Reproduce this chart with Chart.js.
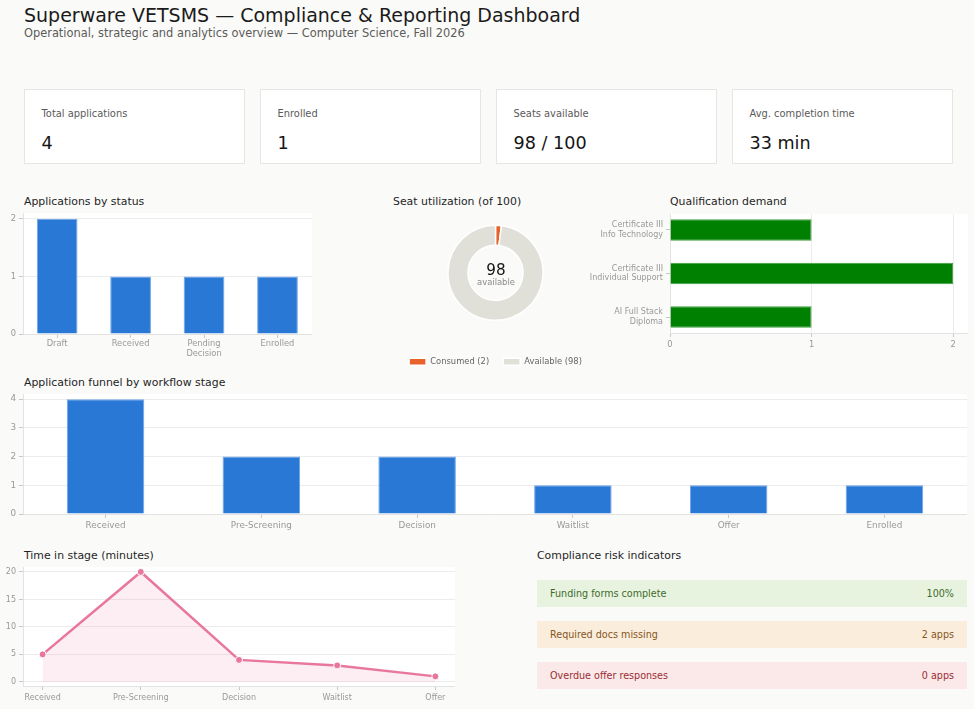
<!DOCTYPE html>
<html>
<head>
<meta charset="utf-8">
<script src="https://cdn.jsdelivr.net/npm/chart.js@4.4.1/dist/chart.umd.min.js"></script>
<style>
  html, body { margin:0; padding:0; background:#fafaf8; width:974px; height:709px; overflow:hidden; font-family:'DejaVu Sans', sans-serif; }
  .abs { position:absolute; }
  .h1 { left:24px; top:5px; font-size:19px; line-height:20px; color:#1b1b1b; white-space:nowrap; }
  .sub { left:24px; top:24px; font-size:11.4px; line-height:18px; color:#5a5a5a; white-space:nowrap; }
  .card { position:absolute; top:89px; width:221px; height:75px; box-sizing:border-box; background:#fff; border:1px solid #e6e6e4; }
  .card .lab { position:absolute; left:17px; top:17px; font-size:9.9px; line-height:13px; color:#5a5a5a; white-space:nowrap; }
  .card .val { position:absolute; left:17px; top:42px; font-size:17.6px; line-height:22px; color:#151515; white-space:nowrap; }
  .sec { font-size:10.9px; line-height:14px; color:#1f1f1f; white-space:nowrap; }
  .box { position:absolute; }
  .box canvas { display:block; }
  .risk { position:absolute; left:537px; width:430px; height:27px; box-sizing:border-box; padding:0 13px 0 13px; font-size:9.6px; line-height:27px; display:flex; justify-content:space-between; }
  .center1 { position:absolute; width:100px; text-align:center; font-size:15.2px; line-height:16px; color:#151515; }
  .center2 { position:absolute; width:100px; text-align:center; font-size:8.4px; line-height:10px; color:#8a8a8a; }
</style>
</head>
<body>
<div class="abs h1">Superware VETSMS — Compliance &amp; Reporting Dashboard</div>
<div class="abs sub">Operational, strategic and analytics overview — Computer Science, Fall 2026</div>
<div id="cards"></div>

<div class="abs sec" style="left:24px;top:195px;">Applications by status</div>
<div class="abs sec" style="left:393px;top:195px;">Seat utilization (of 100)</div>
<div class="abs sec" style="left:670px;top:195px;">Qualification demand</div>
<div class="abs sec" style="left:24px;top:376px;">Application funnel by workflow stage</div>
<div class="abs sec" style="left:24px;top:549px;">Time in stage (minutes)</div>
<div class="abs sec" style="left:537px;top:549px;">Compliance risk indicators</div>

<div class="box" style="left:0px;top:213px;width:312px;height:151px;"><canvas id="cStatus"></canvas></div>
<div class="box" style="left:392.3px;top:202px;width:207px;height:174px;"><canvas id="cSeats"></canvas></div>
<div class="center1" id="seatNum" style="left:446px;top:262px;"></div>
<div class="center2" id="seatLbl" style="left:446px;top:277px;">available</div>
<div class="box" style="left:580px;top:214px;width:388px;height:139px;"><canvas id="cQual"></canvas></div>
<div class="box" style="left:0px;top:394px;width:967px;height:140px;"><canvas id="cFunnel"></canvas></div>
<div class="box" style="left:0px;top:567px;width:455px;height:139px;"><canvas id="cTime"></canvas></div>
<div id="risks"></div>

<script>
// ---------- DATA ----------
const kpiLabels = ['Total applications', 'Enrolled', 'Seats available', 'Avg. completion time'];
const kpiValues = ['4', '1', '98 / 100', '33 min'];

const statusLabels = ['Draft', 'Received', ['Pending', 'Decision'], 'Enrolled'];
const statusCounts = [2, 1, 1, 1];

const seatLabels = ['Consumed (2)', 'Available (98)'];
const seatValues = [2, 98];

const qualLabels = [['Certificate III', 'Info Technology'], ['Certificate III', 'Individual Support'], ['AI Full Stack', 'Diploma']];
const qualCounts = [1, 2, 1];

const funnelStages = ['Received', 'Pre-Screening', 'Decision', 'Waitlist', 'Offer', 'Enrolled'];
const funnelCounts = [4, 2, 2, 1, 1, 1];

const timeStages = ['Received', 'Pre-Screening', 'Decision', 'Waitlist', 'Offer'];
const timeMinutes = [5, 20, 4, 3, 1];

const riskLabels = ['Funding forms complete', 'Required docs missing', 'Overdue offer responses'];
const riskValues = ['100%', '2 apps', '0 apps'];

// ---------- HTML parts ----------
const cardsEl = document.getElementById('cards');
kpiLabels.forEach((l, i) => {
  const d = document.createElement('div');
  d.className = 'card';
  d.style.left = (23.5 + i * 236) + 'px';
  d.innerHTML = '<div class="lab">' + l + '</div><div class="val">' + kpiValues[i] + '</div>';
  cardsEl.appendChild(d);
});
const riskStyles = [
  {bg:'#e8f3df', fg:'#3f6b2c'},
  {bg:'#fbeddb', fg:'#86561c'},
  {bg:'#fbe8e8', fg:'#9a2e35'}
];
const risksEl = document.getElementById('risks');
riskLabels.forEach((l, i) => {
  const d = document.createElement('div');
  d.className = 'risk';
  d.style.top = (580 + i * 41) + 'px';
  d.style.background = riskStyles[i].bg;
  d.style.color = riskStyles[i].fg;
  d.innerHTML = '<span>' + l + '</span><span>' + riskValues[i] + '</span>';
  risksEl.appendChild(d);
});
document.getElementById('seatNum').textContent = seatValues[1];

// ---------- Chart.js ----------
Chart.defaults.font.family = "'DejaVu Sans', sans-serif";
Chart.defaults.color = '#999';
Chart.defaults.animation = false;

const whiteArea = {
  id: 'whiteArea',
  beforeDraw(chart) {
    const a = chart.chartArea; if (!a) return;
    const ctx = chart.ctx;
    ctx.save(); ctx.fillStyle = '#ffffff';
    ctx.fillRect(a.left, a.top, a.right - a.left, a.bottom - a.top);
    ctx.restore();
  }
};

const GRID = '#ececec', AXIS = '#e2e2e2', TICK = '#c8c8c8', TXT = '#999';
const BLUE = '#2a78d6', BLUE_B = '#6ea4e6';

function yWidth(w) { return s => { s.width = w; s.paddingTop = 0; s.paddingBottom = 0; }; }
function xHeight(h) { return s => { s.height = h; s.paddingLeft = 0; s.paddingRight = 0; }; }
function toPoints(values, horizontal) {
  return values.map((v, i) => horizontal ? { x: v, y: i } : { x: i, y: v });
}
function indexTicks(labels, size, pad) {
  return { stepSize: 1, includeBounds: false, autoSkip: false, maxRotation: 0, color: TXT, font: { size: size }, padding: pad,
           callback: v => Number.isInteger(v) && labels[v] !== undefined ? labels[v] : '' };
}
const baseOpts = { responsive: true, maintainAspectRatio: false, layout: { padding: 0, autoPadding: false } };

new Chart(document.getElementById('cStatus'), {
  type: 'bar',
  data: { datasets: [{ data: toPoints(statusCounts), backgroundColor: BLUE, borderColor: BLUE_B, borderWidth: 1, categoryPercentage: 0.8, barPercentage: 0.693 }] },
  options: Object.assign({}, baseOpts, {
    plugins: { legend: { display: false }, tooltip: { enabled: false } },
    scales: {
      x: { type: 'linear', min: -0.465, max: 3.47, offset: false,
           grid: { offset: false, drawOnChartArea: false, tickColor: TICK, tickLength: 4 }, border: { color: AXIS },
           ticks: indexTicks(statusLabels, 8.3, 1), afterFit: xHeight(30) },
      y: { min: 0, max: 2.1, grid: { color: GRID, tickColor: TICK, tickLength: 4 }, border: { color: AXIS },
           ticks: { stepSize: 1, includeBounds: false, color: TXT, font: { size: 8.3 }, padding: 3 }, afterFit: yWidth(23) }
    }
  }),
  plugins: [whiteArea]
});

new Chart(document.getElementById('cSeats'), {
  type: 'doughnut',
  data: { labels: seatLabels, datasets: [{ data: seatValues, backgroundColor: ['#e8622c', '#e0dfd8'], borderColor: '#ffffff', borderWidth: 1.5 }] },
  options: {
    responsive: true, maintainAspectRatio: false,
    radius: 47.5, cutout: '58%',
    layout: { padding: 0 },
    plugins: {
      tooltip: { enabled: false },
      legend: { position: 'bottom', labels: { boxWidth: 17, boxHeight: 7, padding: 14, color: '#666', font: { size: 8.35 } } }
    }
  }
});

new Chart(document.getElementById('cQual'), {
  type: 'bar',
  data: { datasets: [{ data: toPoints(qualCounts, true), backgroundColor: '#008000', borderColor: '#3f9e3f', borderWidth: 1, categoryPercentage: 0.8, barPercentage: 0.615 }] },
  options: Object.assign({}, baseOpts, {
    indexAxis: 'y',
    plugins: { legend: { display: false }, tooltip: { enabled: false } },
    scales: {
      y: { type: 'linear', min: -0.365, max: 2.365, reverse: true, offset: false,
           grid: { offset: false, drawOnChartArea: false, tickColor: TICK, tickLength: 4 }, border: { color: AXIS },
           ticks: indexTicks(qualLabels, 8, 3), afterFit: yWidth(90) },
      x: { min: 0, max: 2.105, grid: { color: GRID, tickColor: TICK, tickLength: 4 }, border: { color: AXIS },
           ticks: { stepSize: 1, includeBounds: false, color: TXT, font: { size: 8.3 }, padding: 3 }, afterFit: xHeight(20) }
    }
  }),
  plugins: [whiteArea]
});

new Chart(document.getElementById('cFunnel'), {
  type: 'bar',
  data: { datasets: [{ data: toPoints(funnelCounts), backgroundColor: BLUE, borderColor: BLUE_B, borderWidth: 1, categoryPercentage: 0.8, barPercentage: 0.622 }] },
  options: Object.assign({}, baseOpts, {
    plugins: { legend: { display: false }, tooltip: { enabled: false } },
    scales: {
      x: { type: 'linear', min: -0.53, max: 5.53, offset: false,
           grid: { offset: false, drawOnChartArea: false, tickColor: TICK, tickLength: 4 }, border: { color: AXIS },
           ticks: indexTicks(funnelStages, 8.8, 2), afterFit: xHeight(20) },
      y: { min: 0, max: 4.18, grid: { color: GRID, tickColor: TICK, tickLength: 4 }, border: { color: AXIS },
           ticks: { stepSize: 1, includeBounds: false, color: TXT, font: { size: 8.8 }, padding: 3 }, afterFit: yWidth(23) }
    }
  }),
  plugins: [whiteArea]
});

new Chart(document.getElementById('cTime'), {
  type: 'line',
  data: { datasets: [{
    data: toPoints(timeMinutes),
    borderColor: '#e8769e', backgroundColor: 'rgba(232,118,158,0.12)', fill: 'origin',
    borderWidth: 2.5, tension: 0,
    pointRadius: 3.5, pointBackgroundColor: '#e8769e', pointBorderColor: '#ffffff', pointBorderWidth: 1
  }] },
  options: Object.assign({}, baseOpts, {
    plugins: { legend: { display: false }, tooltip: { enabled: false } },
    scales: {
      x: { type: 'linear', min: -0.2, max: 4.2,
           grid: { drawOnChartArea: false, tickColor: TICK, tickLength: 4 }, border: { color: AXIS },
           ticks: indexTicks(timeStages, 8, 3), afterFit: xHeight(20) },
      y: { min: -0.75, max: 20.9, grid: { color: GRID, tickColor: TICK, tickLength: 4 }, border: { color: AXIS },
           ticks: { stepSize: 5, includeBounds: false, color: TXT, font: { size: 8 }, padding: 3 }, afterFit: yWidth(23) }
    }
  }),
  plugins: [whiteArea]
});
</script>
</body>
</html>
